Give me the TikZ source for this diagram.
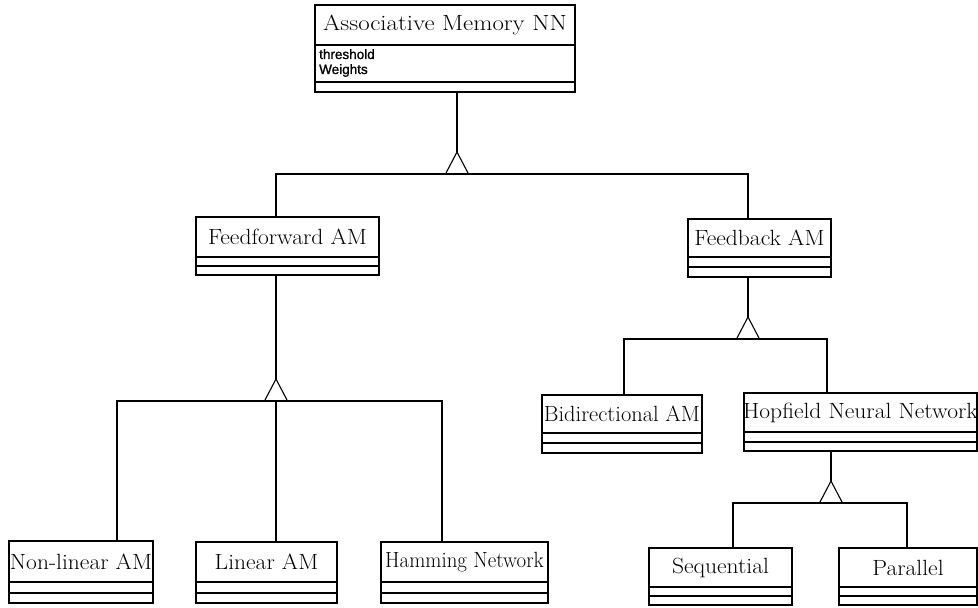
\documentclass[tikz,border=0pt]{standalone}
\usepackage{fontspec}
\usetikzlibrary{calc}
\newfontfamily\attrfont[FakeBold=1.2]{Liberation Sans}
\newfontfamily\clsfont[FakeStretch=1.07]{Latin Modern Roman}
\newfontfamily\clsnarrowfont[FakeStretch=0.95]{Latin Modern Roman}
\newfontfamily\clsplainfont[FakeStretch=1.02]{Latin Modern Roman}
\newfontfamily\titlefont[FakeStretch=1.13]{Latin Modern Roman}

\tikzset{
  clsbox/.style={draw, line width=1.2pt, rectangle, inner sep=0pt, outer sep=0pt},
  clsline/.style={line width=1.1pt},
  clstitle/.style={inner sep=0pt, font=\clsfont\fontsize{22}{22}\selectfont},
  narrowtitle/.style={inner sep=0pt, font=\clsnarrowfont\fontsize{22}{22}\selectfont},
  plaintitle/.style={inner sep=0pt, font=\clsplainfont\fontsize{22}{22}\selectfont},
  bigtitle/.style={inner sep=0pt, font=\titlefont\fontsize{22}{22}\selectfont},
  attr/.style={inner sep=0pt, font=\attrfont\fontsize{13.5}{13.5}\selectfont},
  conn/.style={line width=1.1pt},
  gen/.style={line width=1.1pt, line join=miter},
}

% #1 name, #2 left, #3 top, #4 right, #5 bottom, #6 first divider, #7 second divider
\newcommand\umlclass[7]{%
  \pgfmathsetmacro\clsw{#4-#2}%
  \pgfmathsetmacro\clsh{#5-#3}%
  \node[clsbox, minimum width=\clsw pt, minimum height=\clsh pt, anchor=north west] (#1) at (#2,#3) {};
  \draw[clsline] (#1.west |- 0,#6) -- (#1.east |- 0,#6);
  \draw[clsline] (#1.west |- 0,#7) -- (#1.east |- 0,#7);
  \coordinate (#1-mid) at ($(#1.north)!0.5!(#1.north |- 0,#6)$);
}

% generalisation triangle with its apex at #1
\newcommand\gentri[1]{%
  \draw[gen] (#1) -- ++(-11.5,22) -- ++(23,0) -- cycle;
}

\begin{document}
\begin{tikzpicture}[x=1pt, y=-1pt]
\useasboundingbox (0,0) rectangle (978,608);

% classes
\umlclass{am}{315}{5}{575}{92}{45}{82}
\node[bigtitle] (am-name) at (am-mid) {Associative Memory NN};
\node[attr, anchor=north west] (am-a1) at (319,49) {threshold};
\node[attr, anchor=north west] (am-a2) at (319,64) {Weights};

\umlclass{ff}{196}{217}{379}{275}{257}{266}
\node[clstitle] (ff-name) at (ff-mid) {Feedforward AM};
\umlclass{fb}{688}{219}{831}{277}{257}{267}
\node[clstitle] (fb-name) at (fb-mid) {Feedback AM};

\umlclass{nl}{9}{541}{153}{603}{582}{593}
\node[clstitle] (nl-name) at (nl-mid) {Non-linear AM};
\umlclass{lin}{196}{542}{337}{603}{582}{593}
\node[clstitle] (lin-name) at (lin-mid) {Linear AM};
\umlclass{ham}{381}{542}{548}{603}{582}{593}
\node[narrowtitle] (ham-name) at (ham-mid) {Hamming Network};

\umlclass{bi}{542}{395}{702}{453}{433}{443}
\node[plaintitle] (bi-name) at (bi-mid) {Bidirectional AM};
\umlclass{hop}{744}{393}{977}{451}{432}{442}
\node[clstitle] (hop-name) at (hop-mid) {Hopfield Neural Network};

\umlclass{seq}{649}{548}{792}{605}{587}{596}
\node[clstitle] (seq-name) at (seq-mid) {Sequential};
\umlclass{par}{839}{548}{977}{605}{587}{596}
\node[clstitle] (par-name) at (par-mid) {Parallel};

% generalisation: Associative Memory NN
\coordinate (g1) at (457,152);
\coordinate (g1b) at (457,174);
\draw[conn] (am.south -| g1) -- (g1);
\gentri{g1}
\draw[conn] (ff.north -| 276,0) |- (g1b) -| (fb.north -| 748,0);

% generalisation: Feedforward AM
\coordinate (g2) at (276,379);
\coordinate (g2b) at (276,401);
\draw[conn] (ff.south -| g2) -- (g2);
\gentri{g2}
\draw[conn] (nl.north -| 117,0) |- (g2b) -| (ham.north -| 442,0);
\draw[conn] (g2b) -- (lin.north -| g2b);

% generalisation: Feedback AM
\coordinate (g3) at (748,317);
\coordinate (g3b) at (748,339);
\draw[conn] (fb.south -| g3) -- (g3);
\gentri{g3}
\draw[conn] (bi.north -| 624,0) |- (g3b) -| (hop.north -| 827,0);

% generalisation: Hopfield Neural Network
\coordinate (g4) at (831,481);
\coordinate (g4b) at (831,503);
\draw[conn] (hop.south -| g4) -- (g4);
\gentri{g4}
\draw[conn] (seq.north -| 733,0) |- (g4b) -| (par.north -| 907,0);
\end{tikzpicture}
\end{document}
